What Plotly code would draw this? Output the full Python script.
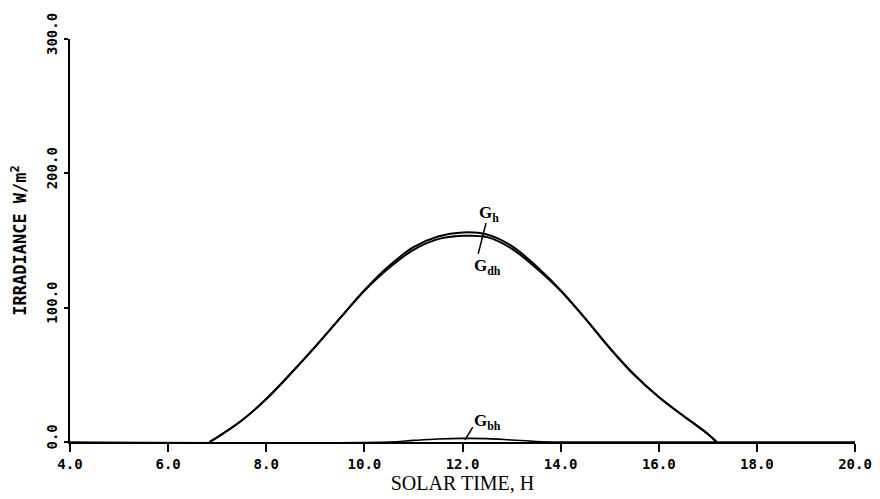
import plotly.graph_objects as go

# ---- data ----
hours = [6.84, 7.0, 7.5, 8.0, 8.5, 9.0, 9.5, 10.0, 10.5, 11.0, 11.5, 12.0,
         12.5, 13.0, 13.5, 14.0, 14.5, 15.0, 15.5, 16.0, 16.5, 17.0, 17.18]
g_h = [0.0, 3.5, 16.0, 32.0, 51.0, 71.0, 92.0, 113.0, 131.0, 145.0, 153.0, 156.0,
       154.5, 146.0, 131.0, 113.0, 92.0, 70.0, 50.0, 33.5, 19.5, 6.0, 0.0]
g_dh = [0.0, 3.5, 16.0, 32.0, 51.0, 71.0, 92.0, 112.5, 129.5, 143.0, 151.0, 153.5,
        152.5, 144.0, 129.5, 112.5, 92.0, 70.0, 50.0, 33.5, 19.5, 6.0, 0.0]
hours_bh = [4.0, 10.5, 11.0, 11.5, 12.0, 12.5, 13.0, 13.5, 14.0, 20.0]
g_bh = [0.0, 0.0, 1.2, 2.2, 2.7, 2.5, 1.5, 0.4, 0.0, 0.0]

x_ticks = [4.0, 6.0, 8.0, 10.0, 12.0, 14.0, 16.0, 18.0, 20.0]
y_ticks = [0.0, 100.0, 200.0, 300.0]
x_tick_labels = ["4.0", "6.0", "8.0", "10.0", "12.0", "14.0", "16.0", "18.0", "20.0"]
y_tick_labels = ["0.0", "100.0", "200.0", "300.0"]

x_title = "SOLAR TIME, H"
y_title = "IRRADIANCE W/m<sup>2</sup>"

fig = go.Figure()
line_style = dict(color="black", width=2, shape="spline", smoothing=1.0)
fig.add_trace(go.Scatter(x=hours, y=g_h, mode="lines", line=line_style, name="Gh"))
fig.add_trace(go.Scatter(x=hours, y=g_dh, mode="lines", line=line_style, name="Gdh"))
fig.add_trace(go.Scatter(x=hours_bh, y=g_bh, mode="lines",
                         line=dict(color="black", width=1.6, shape="spline", smoothing=1.0),
                         name="Gbh"))

label_font = dict(family="Liberation Serif", size=17, color="black", weight="bold")

fig.add_annotation(x=12.30, y=170, text="G<sub>h</sub>", showarrow=False,
                   xanchor="left", yanchor="middle", font=label_font)
fig.add_annotation(x=12.19, y=130, text="G<sub>dh</sub>", showarrow=False,
                   xanchor="left", yanchor="middle", font=label_font)
fig.add_annotation(x=12.19, y=15, text="G<sub>bh</sub>", showarrow=False,
                   xanchor="left", yanchor="middle", font=label_font)

leader = dict(color="black", width=1.5)
fig.add_shape(type="line", x0=12.48, y0=163, x1=12.32, y1=140, line=leader)
fig.add_shape(type="line", x0=12.21, y0=11, x1=12.05, y1=1.5, line=leader)

# the page places the figure 8 px from the top-left corner of the window
fig.update_layout(
    width=880, height=499,
    margin=dict(l=62, r=33, t=31, b=65),
    plot_bgcolor="white", paper_bgcolor="white",
    showlegend=False,
)
fig.update_xaxes(
    range=[4, 20], tickvals=x_ticks, ticktext=x_tick_labels, automargin=False,
    showgrid=False, zeroline=False, showline=True, linecolor="black", linewidth=2,
    ticks="outside", ticklen=8, tickwidth=1.5, tickcolor="black",
    tickfont=dict(family="DejaVu Sans Mono", size=14, color="black", weight="bold"),
    title=dict(text=x_title, standoff=5,
               font=dict(family="Liberation Serif", size=20, color="black")),
)
fig.update_yaxes(
    range=[0, 300], tickvals=y_ticks, ticktext=y_tick_labels, automargin=False,
    showgrid=False, zeroline=False, showline=True, linecolor="black", linewidth=2,
    ticks="outside", ticklen=4, tickwidth=1.5, tickcolor="black",
    tickangle=-90, ticklabelshift=-3, ticklabelstandoff=1,
    tickfont=dict(family="DejaVu Sans Mono", size=14, color="black", weight="bold"),
    title=dict(text=y_title, standoff=17,
               font=dict(family="DejaVu Sans Mono", size=17, color="black", weight="bold")),
)

fig.write_html("out.html")
